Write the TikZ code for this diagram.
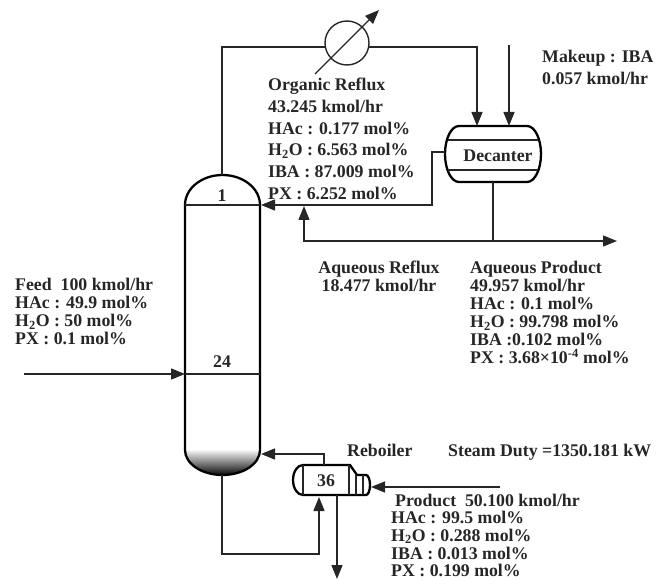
\documentclass[tikz,border=0pt]{standalone}
\usepackage{fontspec}
\setmainfont{Liberation Serif}
\usetikzlibrary{arrows.meta}
\tikzset{
 line/.style={line width=1.4pt,draw=black!85},
 flow/.style={line,-{Triangle[length=14pt,width=11pt]}},
 vessel/.style={line width=2.3pt,draw=black},
 lbl/.style={font=\fontsize{17.8}{21.7}\selectfont\bfseries,align=left,anchor=north west,inner sep=0pt,text=black!85},
 lbls/.style={lbl,font=\fontsize{17.8}{18}\selectfont\bfseries},
 tag/.style={font=\fontsize{17.8}{18}\selectfont\bfseries,inner sep=0pt,text=black!85}
}
\begin{document}
\begin{tikzpicture}[x=1pt,y=-1pt]
\useasboundingbox (0,0) rectangle (667,580);
% key points
\coordinate (coltop) at (222,175);
\coordinate (colbot) at (222,475);
\coordinate (trayL) at (185,205); \coordinate (trayR) at (261,205);
\coordinate (feedL) at (185,374); \coordinate (feedR) at (260,374);
\coordinate (feedin) at (24,374);
\coordinate (rebIn) at (261,454);
\node[circle,line,draw,minimum size=44pt,inner sep=0pt] (cond) at (347,43) {};
\coordinate (condL) at (326,47); \coordinate (condR) at (368,47);
\coordinate (vs) at (315,74); \coordinate (ve) at (379,10);
\coordinate (decIn1) at (477,126); \coordinate (decIn2) at (509,126);
\coordinate (mkup) at (509,45);
\coordinate (decL) at (445,152); \coordinate (decB) at (493,182);
\coordinate (split) at (493,241); \coordinate (prodOut) at (617,241);
\coordinate (refluxJoin) at (304,206);
\coordinate (rebTop) at (324,465); \coordinate (rebBot) at (319,497);
\coordinate (rebOut) at (337,495); \coordinate (prodEnd) at (337,579);
\coordinate (steamIn) at (500,487); \coordinate (steamEnd) at (371,487);
% column
\begin{scope}
\clip (185,448) -- (185,450) arc[start angle=180,end angle=0,x radius=37.5,y radius=25] -- (260,448) -- cycle;
\shade[top color=white,bottom color=black] (183,449) rectangle (262,476);
\end{scope}
\draw[vessel] (185,205) -- (185,450) arc[start angle=180,end angle=0,x radius=37.5,y radius=25] -- (260,205)
  arc[start angle=0,end angle=-180,x radius=37.5,y radius=30];
\draw[line] (trayL) -- (260,205);
\draw[line] (feedL) -- (feedR);
\node[tag] (t1) at (222,196) {1};
\node[tag] (t24) at (222,362) {24};
% condenser
\draw[line] (coltop) |- (condL);
\draw[flow] (condR) -| (decIn1);
\draw[flow] (mkup) -- (decIn2);
\draw[line,-{Triangle[length=14pt,width=11pt]},line width=1.1pt] (vs) -- (ve);
% decanter
\draw[vessel] (459,126) -- (527,126) arc[start angle=-90,end angle=90,x radius=14,y radius=28] -- (459,182)
   arc[start angle=90,end angle=270,x radius=14,y radius=28] -- cycle;
\draw[line,line width=1.2pt] (448,140) -- (538,140);
\draw[line,line width=1.2pt] (448,170) -- (538,170);
\node[tag] (dec) at (498,156) {Decanter};
% reflux
\draw[flow] (decL) -- (432,152) -- (432,205) -- (trayR);
\draw[line] (decB) -- (split);
\draw[flow] (split) -| (refluxJoin);
\draw[flow] (split) -- (prodOut);
% feed
\draw[flow] (feedin) -- (feedL);
% reboiler
\draw[vessel] (303,465) -- (350,465) -- (357,475) -- (366,475) arc[start angle=-90,end angle=90,x radius=4,y radius=10] -- (303,495)
  arc[start angle=90,end angle=270,x radius=10,y radius=15] -- cycle;
\draw[line,line width=1.8pt] (303,465) -- (303,495);
\draw[line,line width=1.8pt] (349,465) -- (349,495);
\draw[line,line width=1.8pt] (356,475) -- (356,495);
\draw[line,line width=1.8pt] (363,475) -- (363,495);
\draw[flow] (rebTop) |- (rebIn);
\draw[flow] (colbot) -- (222,554) -| (rebBot);
\draw[flow] (rebOut) -- (prodEnd);
\draw[flow] (steamIn) -- (steamEnd);
\node[tag] (t36) at (326,481) {36};
% labels
\node[lbl] (l1) at (268,78) {Organic Reflux\\43.245 kmol/hr\\HAc : 0.177 mol\%\\H\textsubscript{2}O : 6.563 mol\%\\IBA : 87.009 mol\%\\PX : 6.252 mol\%};
\node[lbl] (l2) at (542,50) {Makeup : IBA\\0.057 kmol/hr};
\node[lbls,align=center,anchor=north] (l4) at (379,261) {Aqueous Reflux\\18.477 kmol/hr};
\node[lbls] (l5) at (470,261) {Aqueous Product\\49.957 kmol/hr\\HAc : 0.1 mol\%\\H\textsubscript{2}O : 99.798 mol\%\\IBA :0.102 mol\%\\PX : 3.68×10\smash{\textsuperscript{-4}} mol\%};
\node[lbls] (l6) at (15,278) {Feed\ \ 100 kmol/hr\\HAc : 49.9 mol\%\\H\textsubscript{2}O : 50 mol\%\\PX : 0.1 mol\%};
\node[lbl] (l7) at (347,444) {Reboiler};
\node[lbl] (l8) at (448,444) {Steam Duty =1350.181 kW};
\node[lbl] (l9) at (395,494) {Product\ \ 50.100 kmol/hr};
\node[lbl,font=\fontsize{17.8}{17.8}\selectfont\bfseries] (l10) at (391,511) {HAc : 99.5 mol\%\\H\textsubscript{2}O : 0.288 mol\%\\IBA : 0.013 mol\%\\PX : 0.199 mol\%};
\end{tikzpicture}
\end{document}
